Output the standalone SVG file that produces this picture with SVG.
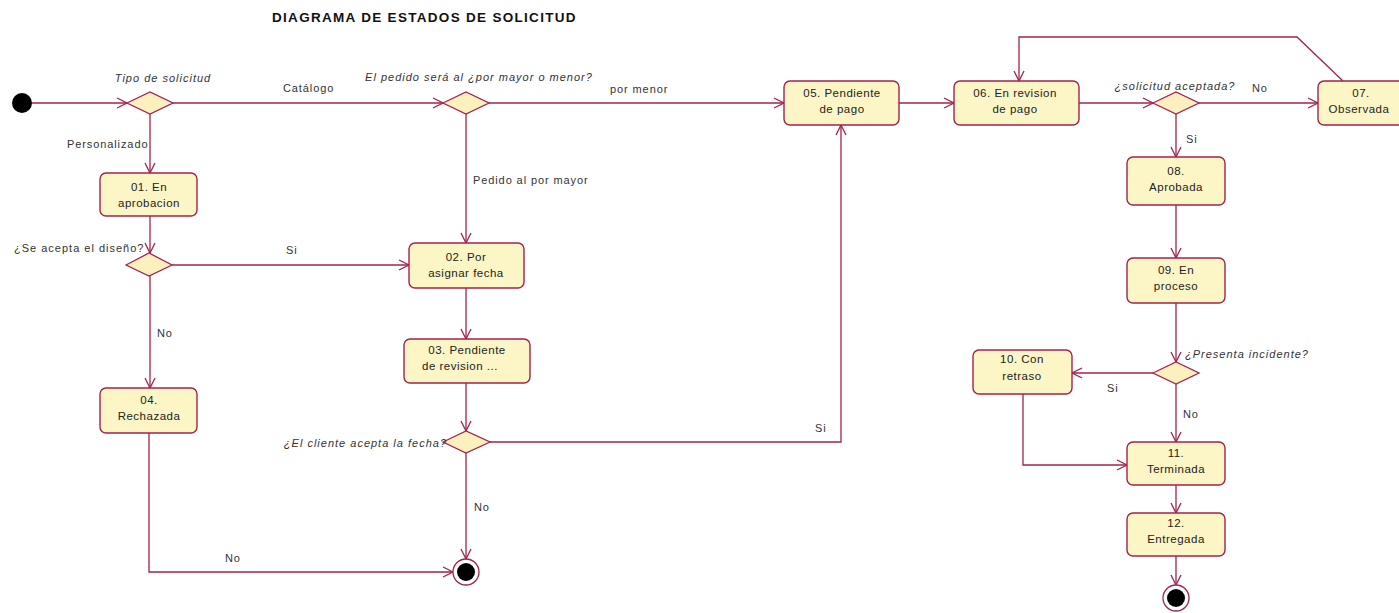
<svg xmlns="http://www.w3.org/2000/svg" width="1399" height="613" viewBox="0 0 1399 613">
  <style>
    .st rect { fill: #fcf6c6; stroke: #a3224e; stroke-width: 1.4; }
    .dec polygon { fill: #fcf0bf; stroke: #a3224e; stroke-width: 1.3; }
    .st text { font-family: "Liberation Sans", Arial, sans-serif; font-size: 11.5px; letter-spacing: 0.5px; fill: #222; text-anchor: middle; }
    .lbl { font-family: "Liberation Sans", Arial, sans-serif; font-size: 11px; letter-spacing: 0.9px; fill: #333; }
    .q { font-family: "Liberation Sans", Arial, sans-serif; font-size: 11px; letter-spacing: 1px; font-style: italic; fill: #333; }
    .up { font-style: normal; }
    #edges path { fill: none; stroke: #a3224e; stroke-width: 1.3; marker-end: url(#arr); }
    .title { font-family: "Liberation Sans", Arial, sans-serif; font-size: 13.5px; letter-spacing: 1.3px; font-weight: bold; fill: #111; }
  </style>
  <defs>
    <marker id="arr" viewBox="0 0 12 12" refX="11" refY="6" markerWidth="12" markerHeight="12" markerUnits="userSpaceOnUse" orient="auto">
      <path d="M1,1 L11,6 L1,11" fill="none" stroke="#a3224e" stroke-width="1.3"/>
    </marker>
  </defs>
  <rect width="1399" height="613" fill="#ffffff"/>
  <text class="title" x="272" y="22">DIAGRAMA DE ESTADOS DE SOLICITUD</text>

  <!-- connectors -->
  <g id="edges">
    <path d="M32,103 H127"/>
    <path d="M173,103 H443"/>
    <path d="M489,103 H784"/>
    <path d="M899,103 H954"/>
    <path d="M1079,103 H1153"/>
    <path d="M1199,103 H1318"/>
    <path d="M1343,81 L1297,37 H1019 V81"/>
    <path d="M1176,114 V157"/>
    <path d="M1176,205 V258"/>
    <path d="M1176,303 V362"/>
    <path d="M1153,373 H1072"/>
    <path d="M1176,384 V442"/>
    <path d="M1023,394 V465 H1127"/>
    <path d="M1176,485 V513"/>
    <path d="M1176,556 V585"/>
    <path d="M150,114 V173"/>
    <path d="M150,216 V253"/>
    <path d="M172,265 H409"/>
    <path d="M150,276 V388"/>
    <path d="M149,433 V572 H453"/>
    <path d="M466,114 V243"/>
    <path d="M466,288 V339"/>
    <path d="M466,383 V431"/>
    <path d="M490,442 H841 V125"/>
    <path d="M466,453 V559"/>
  </g>

  <!-- edge labels -->
  <g id="edge-labels">
    <text class="lbl" x="283" y="92">Catálogo</text>
    <text class="lbl" x="610" y="93">por menor</text>
    <text class="lbl" x="1252" y="92">No</text>
    <text class="lbl" x="1186" y="143">Si</text>
    <text class="lbl" x="1107" y="392">Si</text>
    <text class="lbl" x="1183" y="418">No</text>
    <text class="lbl" x="67" y="148">Personalizado</text>
    <text class="lbl" x="286" y="254">Si</text>
    <text class="lbl" x="157" y="337">No</text>
    <text class="lbl" x="225" y="562">No</text>
    <text class="lbl" x="473" y="184">Pedido al por mayor</text>
    <text class="lbl" x="815" y="432">Si</text>
    <text class="lbl" x="474" y="511">No</text>
  </g>

  <!-- pseudo states -->
  <g id="initial"><circle cx="22" cy="103" r="10" fill="#000"/></g>
  <g id="final-1">
    <circle cx="466" cy="572" r="13" fill="#fff" stroke="#a3224e" stroke-width="1.3"/>
    <circle cx="466" cy="572" r="9" fill="#000"/>
  </g>
  <g id="final-2">
    <circle cx="1176" cy="598" r="13" fill="#fff" stroke="#a3224e" stroke-width="1.3"/>
    <circle cx="1176" cy="598" r="9" fill="#000"/>
  </g>

  <!-- decisions -->
  <g id="d-tipo" class="dec">
    <polygon points="127,103 150,92 173,103 150,114"/>
    <text class="q" x="163" y="82" text-anchor="middle">Tipo de solicitud</text>
  </g>
  <g id="d-mayor" class="dec">
    <polygon points="443,103 466,92 489,103 466,114"/>
    <text class="q" x="479" y="81" text-anchor="middle">El pedido será al ¿por mayor o menor?</text>
  </g>
  <g id="d-aceptada" class="dec">
    <polygon points="1153,103 1176,92 1199,103 1176,114"/>
    <text class="q" x="1175" y="90" text-anchor="middle">¿solicitud aceptada?</text>
  </g>
  <g id="d-incidente" class="dec">
    <polygon points="1153,373 1176,362 1199,373 1176,384"/>
    <text class="q" x="1185" y="358">¿Presenta incidente?</text>
  </g>
  <g id="d-diseno" class="dec">
    <polygon points="126,265 149,253 172,265 149,276"/>
    <text class="q up" x="14" y="252">¿Se acepta el diseño?</text>
  </g>
  <g id="d-fecha" class="dec">
    <polygon points="443,442 466,431 490,442 466,453"/>
    <text class="q" x="447" y="447" text-anchor="end">¿El cliente acepta la fecha?</text>
  </g>

  <!-- states -->
  <g id="s01" class="st">
    <rect x="100" y="173" width="97" height="43" rx="6"/>
    <text x="149" y="191">01. En</text><text x="149" y="207">aprobacion</text>
  </g>
  <g id="s02" class="st">
    <rect x="409" y="243" width="115" height="45" rx="6"/>
    <text x="466" y="261">02. Por</text><text x="466" y="277">asignar fecha</text>
  </g>
  <g id="s03" class="st">
    <rect x="404" y="339" width="126" height="44" rx="6"/>
    <text x="467" y="354">03. Pendiente</text><text x="460" y="370">de revision ...</text>
  </g>
  <g id="s04" class="st">
    <rect x="100" y="388" width="97" height="45" rx="6"/>
    <text x="149" y="404">04.</text><text x="149" y="420">Rechazada</text>
  </g>
  <g id="s05" class="st">
    <rect x="784" y="81" width="115" height="44" rx="6"/>
    <text x="842" y="97">05. Pendiente</text><text x="842" y="113">de pago</text>
  </g>
  <g id="s06" class="st">
    <rect x="954" y="81" width="125" height="44" rx="6"/>
    <text x="1015" y="97">06. En revision</text><text x="1015" y="113">de pago</text>
  </g>
  <g id="s07" class="st">
    <rect x="1318" y="81" width="95" height="44" rx="6"/>
    <text x="1361" y="97">07.</text><text x="1359" y="113">Observada</text>
  </g>
  <g id="s08" class="st">
    <rect x="1127" y="157" width="98" height="48" rx="6"/>
    <text x="1176" y="175">08.</text><text x="1176" y="191">Aprobada</text>
  </g>
  <g id="s09" class="st">
    <rect x="1127" y="258" width="98" height="45" rx="6"/>
    <text x="1176" y="274">09. En</text><text x="1176" y="290">proceso</text>
  </g>
  <g id="s10" class="st">
    <rect x="973" y="350" width="99" height="44" rx="6"/>
    <text x="1022" y="363">10. Con</text><text x="1022" y="380">retraso</text>
  </g>
  <g id="s11" class="st">
    <rect x="1127" y="442" width="98" height="43" rx="6"/>
    <text x="1176" y="457">11.</text><text x="1176" y="473">Terminada</text>
  </g>
  <g id="s12" class="st">
    <rect x="1127" y="513" width="98" height="43" rx="6"/>
    <text x="1176" y="527">12.</text><text x="1176" y="543">Entregada</text>
  </g>
</svg>
